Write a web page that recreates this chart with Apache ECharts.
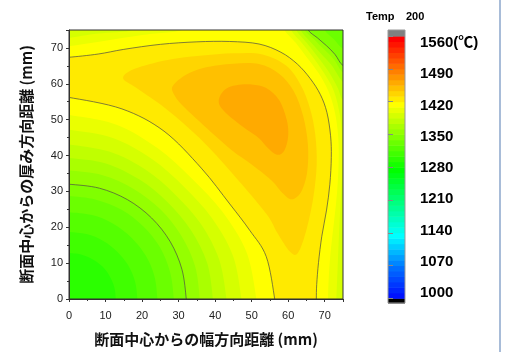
<!DOCTYPE html>
<html><head><meta charset="utf-8">
<script src="https://cdn.jsdelivr.net/npm/echarts@6/dist/echarts.min.js"></script>
<style>html,body{margin:0;padding:0;background:#fff}#c{width:508px;height:352px}</style>
</head><body><div id="c"></div>
<script>
// ================= DATA =================
// colour bar tick labels (°C)
const barTicks = [1000, 1070, 1140, 1210, 1280, 1350, 1420, 1490, 1560];
// filled-contour levels (°C), six bands per 70 °C
const levels = [1291.7, 1303.3, 1315, 1326.7, 1338.3, 1350, 1361.7, 1373.3, 1385, 1396.7, 1408.3, 1420, 1431.7, 1443.3, 1455, 1466.7];

// outer boundaries [x mm, y mm]: temperature falls below the level beyond them
const outer1338 = [[70,75],[72.5,72.4],[75,69.8]];
const outer1350 = [[65.5,75],[68,72.8],[70.5,70.6],[72.8,68.2],[75,65.1]];
const outer1362 = [[64.5,75],[67,72.5],[69.8,69.6],[72.5,66.8],[75,63.2]];
const outer1373 = [[63.4,75],[66,71.8],[69,68.4],[72,65],[75,60.5]];
const outer1385 = [[62.2,75],[65,71.5],[68,67.6],[71,63.5],[73.5,59],[75,55.5]];
const outer1397L = [[0,72.8],[8,74],[17.4,75]];
const outer1397R = [[60.8,75],[63.8,71.3],[66.8,67.4],[69.8,63],[72.5,58],[74.2,51],[74.8,44],[74.8,36],[74.4,28],[73.9,18],[73.5,8],[73.2,0]];
const outer1408L = [[0,70.5],[10,72],[20,73.6],[31,75]];
const outer1408R = [[59,75],[62,71.5],[65,67.5],[68.3,63],[71,58],[72.8,52],[73.7,45],[73.8,38],[73.4,30],[72.6,22],[71.7,14],[71.1,6],[70.9,0]];
const outer1420 = [[0,67.4],[8,68.3],[15,69.6],[25,71],[35,71.7],[44,71.8],[52,71.1],[58,68.8],[62.5,65.5],[66,61.5],[68.8,57],[70.6,52],[71.6,45.5],[71.8,39.5],[71.4,32],[70.5,24.8],[69.2,17.5],[68.3,10.2],[67.8,4],[67.7,0]];

// hot closed regions (temperature above the level inside)
const hot1432 = [[14.8,61.6],[18,64.2],[26.6,66.6],[35.8,67.8],[44.9,68.5],[53,68.2],[59.5,65],[63.5,59.5],[66,53],[67.4,45.9],[67.8,37.6],[66.9,28.5],[65,19.3],[62.7,12.9],[60.5,13.2],[57,18.5],[54,23.8],[44.9,34.8],[35.8,44.8],[26.6,53],[18.5,58.8]];
const hot1443 = [[28.5,59.5],[32,62.5],[37,64.5],[44.9,65.6],[52,65.5],[57.5,62.8],[61.5,58],[64.1,51],[65.4,43],[65.2,35.5],[63.6,30],[61,27.8],[58.5,29.5],[55.5,33],[50,37.5],[44.9,41.2],[40,45.5],[35.8,49.4],[31,54],[28.6,57.3]];
const hot1455 = [[41.3,56.5],[43,58.6],[45.8,59.6],[50,59.8],[54,58.8],[57.5,55.5],[59.6,50],[60,45.5],[59,41.5],[57,40.2],[54.5,42],[52,44.8],[48.5,47.3],[45.8,49.4],[42.8,52],[41.1,54.3]];

// boundaries around the section centre (temperature below the level inside)
const inner1420 = [[0,56.2],[14.5,53],[26,46.8],[36.2,36.5],[44,26.5],[49.5,19.1],[54,11.8],[56.3,0]];
const inner1408 = [[0,51.3],[13,48.6],[24.3,42],[33.6,33.6],[42,24.3],[48.6,13],[51.3,0]];
const inner1397 = [[0,47.2],[12,44.9],[22.6,39.1],[31.4,31.4],[39.1,22.6],[44.9,12],[47.2,0]];
const inner1385 = [[0,43.1],[11,41.1],[20.9,36.1],[29.1,29.1],[36.1,20.9],[41.1,11],[43.1,0]];
const inner1373 = [[0,39.3],[10.1,37.8],[19.3,33.3],[27,27],[33.3,19.3],[37.8,10.1],[39.4,0]];
const inner1362 = [[0,35.8],[9.2,34.5],[17.7,30.7],[25,25],[30.7,17.7],[34.5,9.2],[35.8,0]];
const inner1350 = [[0,32],[8.3,30.9],[16,27.7],[22.6,22.6],[27.7,16],[30.9,8.3],[32.1,0]];
const inner1338 = [[0,28.7],[7.4,27.7],[14.4,24.9],[20.3,20.3],[24.9,14.4],[27.7,7.4],[28.7,0]];
const inner1327 = [[0,24.2],[6.3,23.4],[12.1,21],[17.1,17.1],[21,12.1],[23.4,6.3],[24.2,0]];
const inner1315 = [[0,18.7],[4.8,18.1],[9.4,16.2],[13.2,13.2],[16.2,9.4],[18.1,4.8],[18.7,0]];
const inner1303 = [[0,12.8],[3.3,12.4],[6.4,11.1],[9.1,9.1],[11.1,6.4],[12.4,3.3],[12.8,0]];

// ================= STYLE / HELPERS =================
const stopCols = [[0,0,255],[0,110,255],[0,255,255],[0,255,128],[0,255,0],[128,255,0],[255,255,0],[255,128,0],[255,0,0]];
function colorAt(v){
  const s = barTicks;
  if (v <= s[0]) return 'rgb(' + stopCols[0].join(',') + ')';
  for (let i = 1; i < s.length; i++) {
    if (v <= s[i] + 1e-6) {
      const t = (v - s[i-1]) / (s[i] - s[i-1]);
      const a = stopCols[i-1], b = stopCols[i];
      return 'rgb(' + a.map((c, k) => Math.round(c + (b[k] - c) * t)).join(',') + ')';
    }
  }
  return 'rgb(' + stopCols[stopCols.length-1].join(',') + ')';
}
const AX_MAX = 75, E = 3;
const LEN = AX_MAX + 2*E, PER = 4*LEN;
const frameCorners = [[-E,-E],[-E,AX_MAX+E],[AX_MAX+E,AX_MAX+E],[AX_MAX+E,-E]];
function ext(p){
  const x = p[0], y = p[1];
  if (x <= 0.001) return [-E, y];
  if (x >= AX_MAX - 0.001) return [AX_MAX + E, y];
  if (y >= AX_MAX - 0.001) return [x, AX_MAX + E];
  return [x, -E];
}
function sPos(p){
  const x = p[0], y = p[1], lo = -E, hi = AX_MAX + E;
  if (Math.abs(x - lo) < 1e-6) return y - lo;
  if (Math.abs(y - hi) < 1e-6) return LEN + (x - lo);
  if (Math.abs(x - hi) < 1e-6) return 2*LEN + (hi - y);
  return 3*LEN + (hi - x);
}
function walk(s1, s2){
  const d = (s2 - s1 + PER) % PER, out = [];
  for (let k = 0; k < 4; k++) {
    const dd = (k*LEN - s1 + PER) % PER;
    if (dd > 0 && dd < d) out.push({dd: dd, c: frameCorners[k]});
  }
  out.sort((a, b) => a.dd - b.dd);
  return out.map(o => o.c);
}
function region(segs){
  const pts = [];
  for (let i = 0; i < segs.length; i++) {
    const seg = segs[i], nxt = segs[(i + 1) % segs.length];
    const a = ext(seg[0]), b = ext(seg[seg.length - 1]);
    pts.push({p: a, r: false});
    seg.forEach(p => pts.push({p: p, r: true}));
    pts.push({p: b, r: false});
    walk(sPos(b), sPos(ext(nxt[0]))).forEach(c => pts.push({p: c, r: false}));
  }
  return pts;
}
function closedBlob(arr){ return arr.map(p => ({p: p, r: true})); }
function upper(L){ const i = levels.indexOf(L); return levels[i + 1]; }

const shapes = [];
shapes.push({pts: frameCorners.map(p => ({p: p, r: false})), val: 1338.3, line: false});
[[1338.3,[outer1338]],[1350,[outer1350]],[1361.7,[outer1362]],[1373.3,[outer1373]],[1385,[outer1385]],
 [1396.7,[outer1397L, outer1397R]],[1408.3,[outer1408L, outer1408R]],[1420,[outer1420]]].forEach(r => {
  shapes.push({pts: region(r[1]), val: upper(r[0]), line: (r[0] === 1350 || r[0] === 1420)});
});
[[1431.7, hot1432],[1443.3, hot1443],[1455, hot1455]].forEach(r => {
  shapes.push({pts: closedBlob(r[1]), val: upper(r[0]), line: false});
});
[[1420, inner1420],[1408.3, inner1408],[1396.7, inner1397],[1385, inner1385],[1373.3, inner1373],[1361.7, inner1362],
 [1350, inner1350],[1338.3, inner1338],[1326.7, inner1327],[1315, inner1315],[1303.3, inner1303]].forEach(r => {
  shapes.push({pts: region([r[1]]), val: r[0], line: (r[0] === 1350 || r[0] === 1420)});
});

// closed path through pixel points: Catmull-Rom between boundary points, straight lines elsewhere
function pathData(px, real){
  const n = px.length;
  const f = v => v.toFixed(2);
  let d = 'M' + f(px[0][0]) + ' ' + f(px[0][1]);
  for (let i = 0; i < n; i++) {
    const i1 = (i + 1) % n;
    const p1 = px[i], p2 = px[i1];
    if (real[i] && real[i1]) {
      const p0 = px[(i - 1 + n) % n], p3 = px[(i + 2) % n];
      const c1 = [p1[0] + (p2[0] - p0[0]) / 6, p1[1] + (p2[1] - p0[1]) / 6];
      const c2 = [p2[0] - (p3[0] - p1[0]) / 6, p2[1] - (p3[1] - p1[1]) / 6];
      d += 'C' + f(c1[0]) + ' ' + f(c1[1]) + ' ' + f(c2[0]) + ' ' + f(c2[1]) + ' ' + f(p2[0]) + ' ' + f(p2[1]);
    } else {
      d += 'L' + f(p2[0]) + ' ' + f(p2[1]);
    }
  }
  return d + 'Z';
}

// colour-bar stripes
const stripes = [[990, 1000, '#000000']];
for (let i = 0; i + 1 < barTicks.length; i++) {
  const step = (barTicks[i+1] - barTicks[i]) / 6;
  for (let j = 0; j < 6; j++) {
    const lo = barTicks[i] + j*step, hi = lo + step;
    stripes.push([lo, hi, colorAt(hi)]);
  }
}
stripes.push([1560, 1573, '#808080']);

const LINE = 'rgba(80,80,70,0.8)';
const NUMFONT = "'Liberation Sans', Arial, sans-serif";
const CJK = "'Noto Sans CJK JP', sans-serif";

const chart = echarts.init(document.getElementById('c'), null, {renderer: 'canvas'});
chart.setOption({
  animation: false,
  backgroundColor: '#ffffff',
  grid: [
    {left: 69, top: 30, width: 274, height: 273, containLabel: false},
    {left: 388, top: 30, width: 17, height: 273, containLabel: false}
  ],
  xAxis: [
    {gridIndex: 0, type: 'value', min: 0, max: 75, interval: 10, z: 5,
     axisLine: {show: true, lineStyle: {color: '#333', width: 1}},
     axisTick: {show: true, length: 3, lineStyle: {color: '#333'}},
     minorTick: {show: true, splitNumber: 2, length: 2, lineStyle: {color: '#333'}},
     splitLine: {show: false},
     axisLabel: {fontSize: 11, color: '#222', margin: 11, fontFamily: NUMFONT, showMaxLabel: false},
     name: '断面中心からの幅方向距離 (mm)', nameLocation: 'middle', nameGap: 33,
     nameTextStyle: {fontSize: 15, fontWeight: 'bold', color: '#111', fontFamily: CJK}},
    {gridIndex: 1, type: 'value', min: 0, max: 1, show: false}
  ],
  yAxis: [
    {gridIndex: 0, type: 'value', min: 0, max: 75, interval: 10, z: 5,
     axisLine: {show: true, lineStyle: {color: '#333', width: 1}},
     axisTick: {show: true, length: 3, lineStyle: {color: '#333'}},
     minorTick: {show: true, splitNumber: 2, length: 2, lineStyle: {color: '#333'}},
     splitLine: {show: false},
     axisLabel: {fontSize: 11, color: '#222', margin: 6, fontFamily: NUMFONT, showMaxLabel: false},
     name: '断面中心からの厚み方向距離 (mm)', nameLocation: 'middle', nameGap: 35,
     nameTextStyle: {fontSize: 15, fontWeight: 'bold', color: '#111', fontFamily: CJK}},
    {gridIndex: 1, type: 'value', min: 990, max: 1573, position: 'right', z: 5,
     axisLine: {show: false}, splitLine: {show: false},
     axisTick: {show: true, length: 5, customValues: barTicks, lineStyle: {color: '#888'}},
     axisLabel: {show: false}},
    {gridIndex: 1, type: 'value', min: 977.6, max: 1589.1, position: 'right',
     axisLine: {show: false}, splitLine: {show: false}, axisTick: {show: false},
     axisLabel: {show: true, customValues: barTicks, margin: 15, fontSize: 15, fontWeight: 'bold', color: '#000',
       fontFamily: "'Liberation Sans', 'Noto Sans CJK JP', sans-serif",
       formatter: v => (v === 1560 ? '1560(℃)' : String(v))}}
  ],
  graphic: [
    {type: 'text', left: 366, top: 11, style: {text: 'Temp', font: "bold 11px 'Liberation Sans', Arial", fill: '#000'}},
    {type: 'text', left: 406, top: 11, style: {text: '200', font: "bold 11px 'Liberation Sans', Arial", fill: '#000'}},
    {type: 'rect', shape: {x: 499, y: 0, width: 2, height: 352}, style: {fill: '#a8bcd8'}}
  ],
  series: [
    {type: 'custom', xAxisIndex: 0, yAxisIndex: 0, z: 2,
     data: shapes.map((s, i) => [0, 0, i]),
     renderItem: function (params, api) {
       const cs = params.coordSys;
       const s = shapes[params.dataIndex];
       const px = s.pts.map(o => api.coord(o.p));
       const real = s.pts.map(o => o.r);
       return {
         type: 'path',
         shape: {pathData: pathData(px, real)},
         style: {fill: colorAt(s.val), stroke: s.line ? LINE : null, lineWidth: s.line ? 0.9 : 0},
         clipPath: {type: 'rect', shape: {x: cs.x, y: cs.y, width: cs.width, height: cs.height}}
       };
     }},
    {type: 'custom', xAxisIndex: 0, yAxisIndex: 0, z: 6, data: [[0, 0]],
     renderItem: function (params, api) {
       const cs = params.coordSys;
       return {type: 'rect', shape: {x: cs.x, y: cs.y, width: cs.width, height: cs.height},
               style: {fill: null, stroke: '#333', lineWidth: 1}};
     }},
    {type: 'custom', xAxisIndex: 1, yAxisIndex: 1, z: 2,
     data: stripes.map(s => [0, s[0], s[1]]),
     renderItem: function (params, api) {
       const st = stripes[params.dataIndex];
       const p1 = api.coord([0, st[1]]), p2 = api.coord([1, st[0]]);
       return {type: 'rect', shape: {x: p1[0], y: p1[1], width: p2[0] - p1[0], height: p2[1] - p1[1] + 0.5},
               style: {fill: st[2]}};
     }},
    {type: 'custom', xAxisIndex: 1, yAxisIndex: 1, z: 4, data: [[0, 1000]],
     renderItem: function (params, api) {
       const cs = params.coordSys;
       return {type: 'rect', shape: {x: cs.x, y: cs.y, width: cs.width, height: cs.height},
               style: {fill: null, stroke: '#999', lineWidth: 1}};
     }}
  ]
});
</script>
</body></html>
